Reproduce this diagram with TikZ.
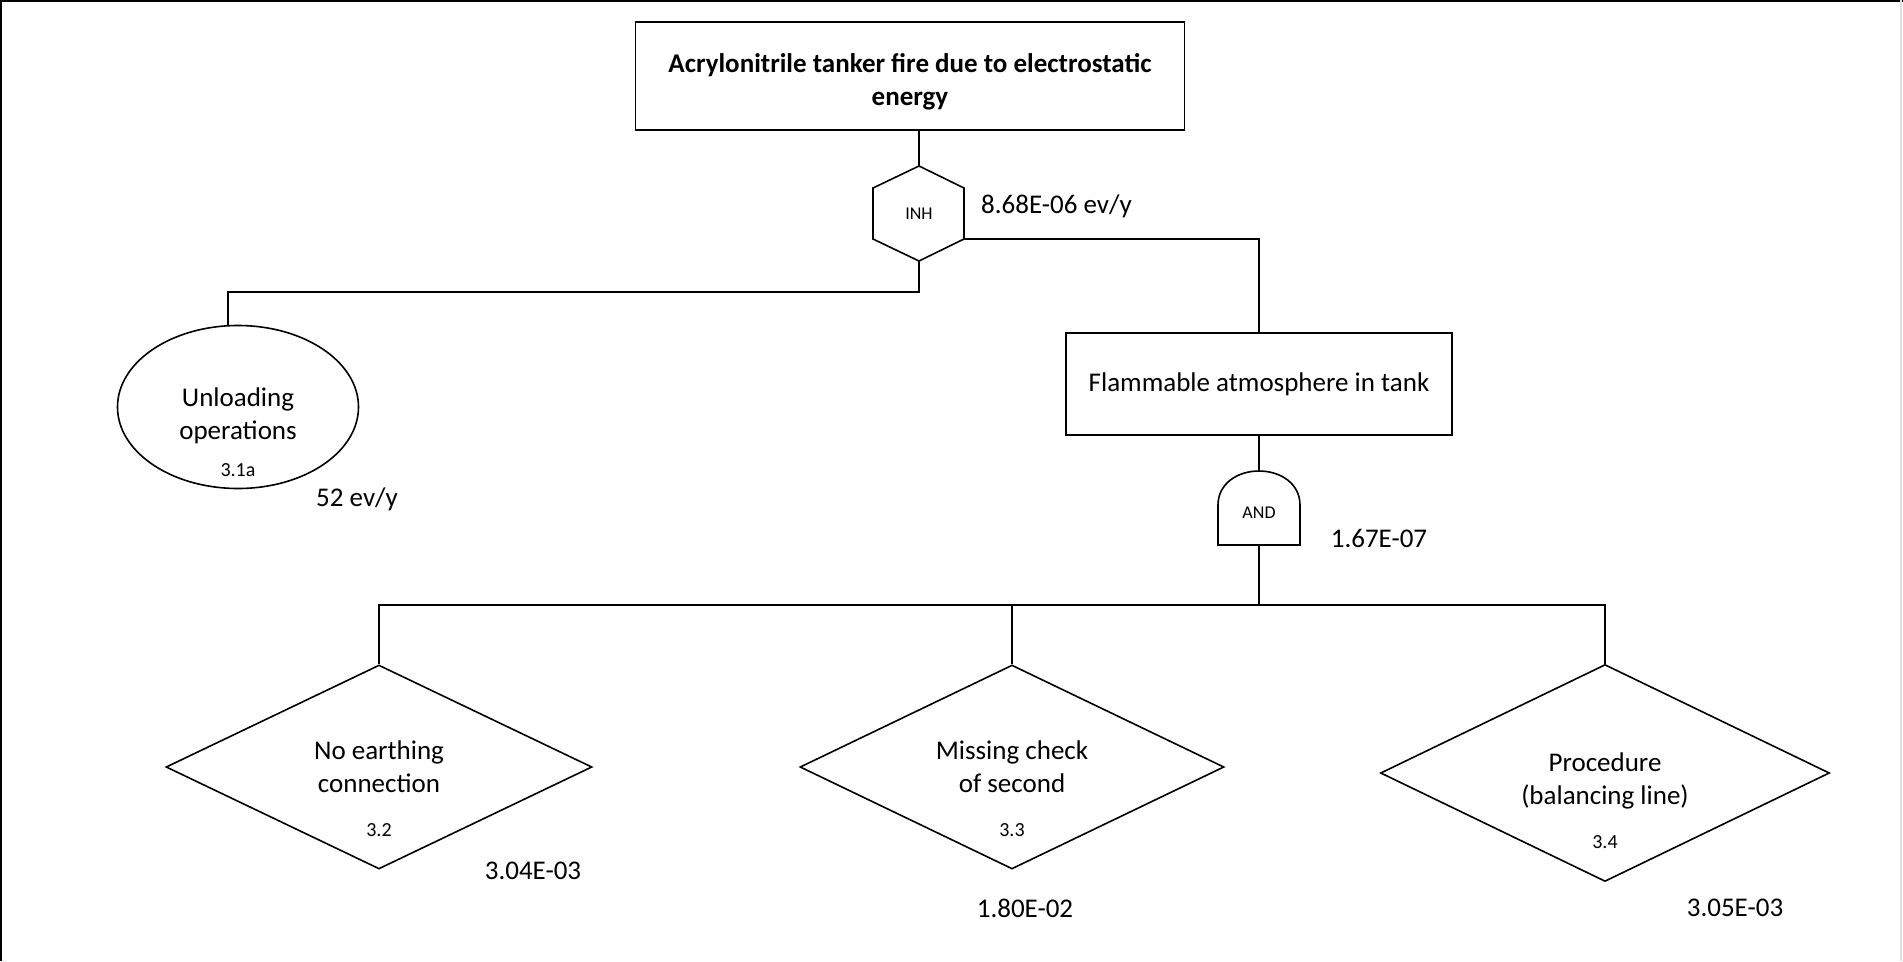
\documentclass[tikz,border=0pt]{standalone}
\usepackage{fontspec}
\setmainfont{Carlito}
\usetikzlibrary{shapes.geometric}

\begin{document}
\begin{tikzpicture}
  [x=1pt,y=-1pt,line width=1.6pt,
   box/.style={draw,rectangle,align=center,font=\fontsize{27}{33}\selectfont},
   evt/.style={draw,ellipse,align=center,inner sep=0pt,font=\fontsize{27}{33}\selectfont},
   dia/.style={draw,diamond,aspect=2.1,align=center,inner sep=0pt,font=\fontsize{27}{33}\selectfont},
   txt/.style={align=center,inner sep=0pt,font=\fontsize{27}{33}\selectfont},
   idtxt/.style={font=\fontsize{20}{24}\selectfont},
   gatetxt/.style={font=\fontsize{18}{22}\selectfont},
   prob/.style={font=\fontsize{27}{33}\selectfont}]
  \useasboundingbox (0,0) rectangle (1903,961);
  % frame
  \draw[line width=3pt] (0,961) -- (0,0) -- (1903,0);
  \draw[black!12,line width=2pt] (1901,0) -- (1901,961);

  % top event
  \node[box,minimum width=549,minimum height=108] (top) at (910,76) {};
  \node[txt,font=\bfseries\fontsize{27}{33}\selectfont] (toptxt) at (910,82)
    {Acrylonitrile tanker fire due to electrostatic\\energy};

  % inhibit gate
  \node[gatetxt] (inh) at (919,214) {INH};
  \coordinate (inhtop) at (919,166);
  \coordinate (inhbot) at (919,261);
  \coordinate (inhright) at (964,239);
  \draw (inhtop) -- (964,188) -- (inhright) -- (inhbot) -- (873,239) -- (873,188) -- cycle;
  \node[prob,anchor=west] (pinh) at (977,206) {8.68E-06 ev/y};

  \node[evt,minimum width=241,minimum height=163] (unload) at (238,407) {};
  \node[txt] (unloadtxt) at (238,416) {Unloading\\operations};
  \node[idtxt] (id31a) at (238,470) {3.1a};
  \node[prob] (p31a) at (357,499) {52 ev/y};

  \node[box,minimum width=386,minimum height=102] (flam) at (1259,384) {Flammable atmosphere in tank};

  \draw (top.south -| inhtop) -- (inhtop);
  \draw (inhright) -| (flam.north);
  \draw (inhbot) -- ++(0,31) -| ([xshift=-10pt]unload.north);

  % and gate
  \node[gatetxt] (andg) at (1259,513) {AND};
  \coordinate (andtop) at (1259,471);
  \coordinate (andbot) at (1259,545);
  \draw (1218,545) -- (1218,505) .. controls (1218,484) and (1237,471) .. (andtop)
    .. controls (1281,471) and (1300,484) .. (1300,505) -- (1300,545) -- cycle;
  \node[prob] (pand) at (1379,538) {1.67E-07};
  \draw (flam.south) -- (andtop);

  % basic events
  \node[dia,minimum width=426,minimum height=204] (d1) at (379,767) {No earthing\\connection};
  \node[dia,minimum width=424,minimum height=204] (d2) at (1012,767) {Missing check\\of second};
  \node[dia,minimum width=449,minimum height=217] (d3) at (1605,773) {};
  \node[txt] (d3txt) at (1605,781) {Procedure\\(balancing line)};
  \node[idtxt] (id32) at (379,830) {3.2};
  \node[idtxt] (id33) at (1012,830) {3.3};
  \node[idtxt] (id34) at (1605,842) {3.4};
  \node[prob] (p32) at (533,871) {3.04E-03};
  \node[prob] (p33) at (1025,908) {1.80E-02};
  \node[prob] (p34) at (1735,908) {3.05E-03};

  \coordinate (bus) at (1259,605);
  \draw (andbot) -- (bus);
  \foreach \d in {d1,d2,d3}
    \draw (bus) -| (\d.north);

\end{tikzpicture}
\end{document}
